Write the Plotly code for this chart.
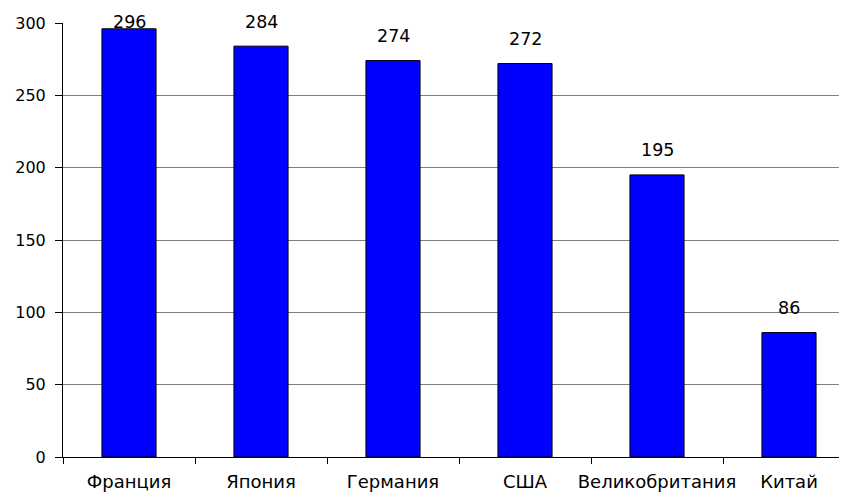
import plotly.graph_objects as go

categories = ["Франция", "Япония", "Германия", "США", "Великобритания", "Китай"]
values = [296, 284, 274, 272, 195, 86]

Y_MAX = 300
# the page body adds an 8px offset; margins compensate so the plot area sits
# at x 63.., y 23..457 in the window (right edge runs past the window like the original)
OFF = 8
PLOT_TOP, PLOT_BOTTOM = 23 - OFF, 457 - OFF
ppu = (PLOT_BOTTOM - PLOT_TOP) / Y_MAX

fig = go.Figure(go.Bar(
    x=categories, y=values, width=0.41,
    marker=dict(color="#0000FF", line=dict(color="black", width=1)),
    hoverinfo="x+y",
))

for c, v in zip(categories, values):
    ys = min(13, (Y_MAX - v) * ppu - 11)
    fig.add_annotation(x=c, y=v, text=str(v), showarrow=False,
                       yanchor="bottom", yshift=ys,
                       font=dict(family="DejaVu Sans", size=17.5, color="black"))

fig.update_layout(
    width=847, height=493,
    margin=dict(l=63 - OFF, r=0, t=PLOT_TOP, b=493 - PLOT_BOTTOM, pad=0),
    plot_bgcolor="white", paper_bgcolor="white",
    font=dict(family="DejaVu Sans", size=16, color="black"),
    showlegend=False,
    xaxis=dict(range=[-0.5, 5.5], showline=True, linecolor="black", linewidth=1,
               ticks="outside", tickson="boundaries", ticklen=6, tickcolor="black",
               showgrid=False, automargin=False, ticklabelstandoff=8, tickangle=0,
               tickfont=dict(family="DejaVu Sans", size=18)),
    yaxis=dict(range=[0, Y_MAX], tickvals=[0, 50, 100, 150, 200, 250, 300],
               showline=True, linecolor="black", linewidth=1,
               ticks="outside", ticklen=7, tickcolor="black",
               showgrid=True, gridcolor="#808080", gridwidth=1, zeroline=False,
               automargin=False, ticklabelstandoff=6,
               tickfont=dict(family="DejaVu Sans", size=16)),
)

fig.write_html("out.html")
